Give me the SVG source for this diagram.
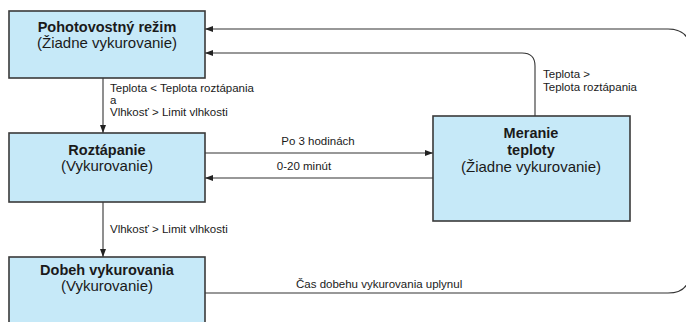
<svg xmlns="http://www.w3.org/2000/svg" width="686" height="322" viewBox="0 0 686 322">
<style>
.box{fill:#c6e9f8;stroke:#3a3a3a;stroke-width:1.6}
.t{font-family:"Liberation Sans",Arial,sans-serif;font-size:15px;fill:#1a1a1a;text-anchor:middle}
.b{font-weight:bold;font-size:14.5px}
.c{fill:none;stroke:#333;stroke-width:1.1}
.l{font-family:"Liberation Sans",Arial,sans-serif;font-size:11.5px;fill:#1a1a1a}
</style>
<defs>
<marker id="ah" viewBox="0 0 8 6" refX="8" refY="3" markerWidth="8" markerHeight="6" markerUnits="userSpaceOnUse" orient="auto">
<path d="M0,0 L8,3 L0,6 Z" fill="#222"/>
</marker>
</defs>
<rect width="686" height="322" fill="#fff"/>
<g id="connectors">
<path class="c" d="M103,78 V133" marker-end="url(#ah)"/>
<path class="c" d="M103,202 V257" marker-end="url(#ah)"/>
<path class="c" d="M205,153 H433" marker-end="url(#ah)"/>
<path class="c" d="M433,178 H205" marker-end="url(#ah)"/>
<path class="c" d="M535,116 V66 Q535,53 522,53 H205" marker-end="url(#ah)"/>
<path class="c" d="M205,293 H668 Q690,293 690,271 V51 Q690,29 668,29 H205" marker-end="url(#ah)"/>
<text class="l" x="110" y="92">Teplota &lt; Teplota roztápania</text>
<text class="l" x="110" y="104">a</text>
<text class="l" x="110" y="116">Vlhkosť &gt; Limit vlhkosti</text>
<text class="l" x="110" y="233">Vlhkosť &gt; Limit vlhkosti</text>
<text class="l" x="318" y="145" text-anchor="middle">Po 3 hodinách</text>
<text class="l" x="304" y="170" text-anchor="middle">0-20 minút</text>
<text class="l" x="543" y="78">Teplota &gt;</text>
<text class="l" x="543" y="91">Teplota roztápania</text>
<text class="l" x="296" y="288">Čas dobehu vykurovania uplynul</text>
</g>
<g id="standby">
<rect class="box" x="9" y="11" width="196" height="67"/>
<text class="t b" x="107" y="32">Pohotovostný režim</text>
<text class="t" x="107" y="48">(Žiadne vykurovanie)</text>
</g>
<g id="melting">
<rect class="box" x="9" y="133" width="196" height="69"/>
<text class="t b" x="107" y="155">Roztápanie</text>
<text class="t" x="107" y="171">(Vykurovanie)</text>
</g>
<g id="afterrun">
<rect class="box" x="9" y="257" width="196" height="75"/>
<text class="t b" x="107" y="275">Dobeh vykurovania</text>
<text class="t" x="107" y="291">(Vykurovanie)</text>
</g>
<g id="measure">
<rect class="box" x="433" y="116" width="197" height="105"/>
<text class="t b" x="531" y="138">Meranie</text>
<text class="t b" x="531" y="155">teploty</text>
<text class="t" x="531" y="172">(Žiadne vykurovanie)</text>
</g>
</svg>
